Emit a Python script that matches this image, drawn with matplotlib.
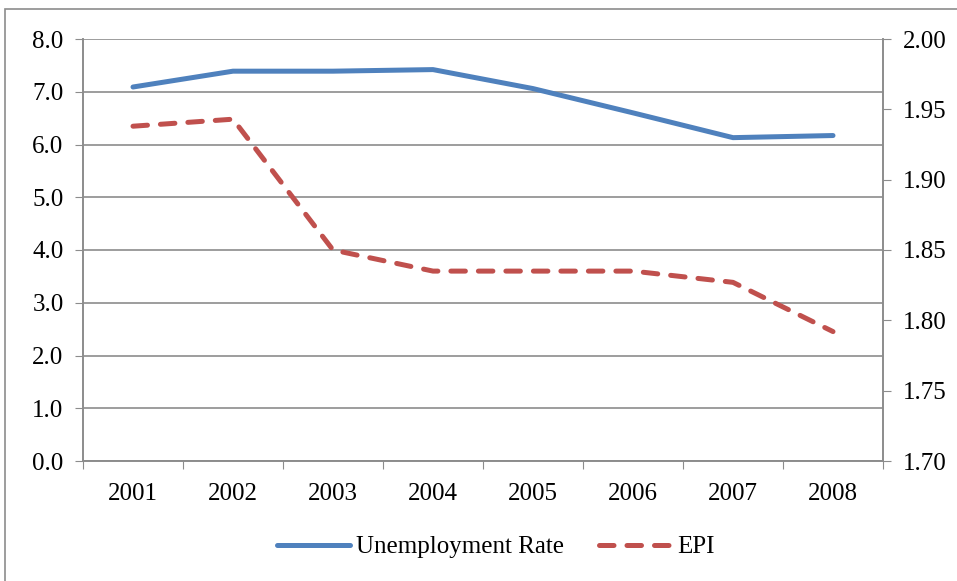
import matplotlib.pyplot as plt
from matplotlib.patches import Rectangle
from matplotlib.ticker import FormatStrFormatter
import numpy as np

years = ["2001", "2002", "2003", "2004", "2005", "2006", "2007", "2008"]
unemployment = [7.09, 7.39, 7.39, 7.42, 7.06, 6.60, 6.13, 6.17]
epi = [1.938, 1.943, 1.850, 1.835, 1.835, 1.835, 1.827, 1.792]

plt.rcParams['font.family'] = ['Liberation Serif', 'DejaVu Serif']
blue = "#4F81BD"
red = "#C0504D"
grey = "#8C8C8C"
fs = 18

fig = plt.figure(figsize=(9.57, 5.81), dpi=100)
# рамка области диаграммы
fig.patches.append(Rectangle((5 / 957, -0.1), 1.2, 1 - 9 / 581 + 0.1, transform=fig.transFigure,
                             fill=False, edgecolor=grey, linewidth=1.2))

ax = fig.add_axes([83 / 957, 1 - 461 / 581, 800 / 957, 422 / 581])
ax2 = ax.twinx()

x = np.arange(len(years)) + 0.5
ax.plot(x, unemployment, color=blue, linewidth=3.6, solid_capstyle='round', label="Unemployment Rate")
ax2.plot(x, epi, color=red, linewidth=3.6, linestyle=(0, (2.9, 2.6)), dash_capstyle='round', label="EPI")

ax.set_xlim(0, len(years))
ax.set_ylim(0, 8)
ax.set_yticks(np.arange(0, 8.1, 1))
ax.yaxis.set_major_formatter(FormatStrFormatter('%.1f'))
ax2.set_ylim(1.70, 2.00)
ax2.set_yticks(np.arange(1.70, 2.001, 0.05))
ax2.yaxis.set_major_formatter(FormatStrFormatter('%.2f'))

ax.set_xticks(np.arange(0, len(years) + 1))
ax.set_xticklabels([])
ax.set_xticks(x, minor=True)
ax.set_xticklabels(years, minor=True)
ax.tick_params(axis='x', which='major', length=6, color=grey, direction='out')
ax.tick_params(axis='x', which='minor', length=0, pad=16, labelsize=fs)
ax.tick_params(axis='y', length=6, color=grey, labelsize=fs, pad=8)
ax2.tick_params(axis='y', length=6, color=grey, labelsize=fs, pad=8)

ax.grid(axis='y', color=grey, linewidth=1.2)
ax.set_axisbelow(True)
for a in (ax, ax2):
    a.spines['top'].set_visible(False)
    for s in ('left', 'right', 'bottom'):
        a.spines[s].set_color(grey)
        a.spines[s].set_linewidth(1.2)
ax.set_zorder(ax2.get_zorder() - 1)
ax.patch.set_visible(True)
ax2.patch.set_visible(False)

h1, l1 = ax.get_legend_handles_labels()
h2, l2 = ax2.get_legend_handles_labels()
fig.legend(h1 + h2, l1 + l2, loc='center', bbox_to_anchor=(496 / 957, 1 - 547 / 581), ncol=2,
           frameon=False, fontsize=fs, handlelength=2.9, handletextpad=0.25, columnspacing=1.4)

fig.savefig("out.png", dpi=100)
